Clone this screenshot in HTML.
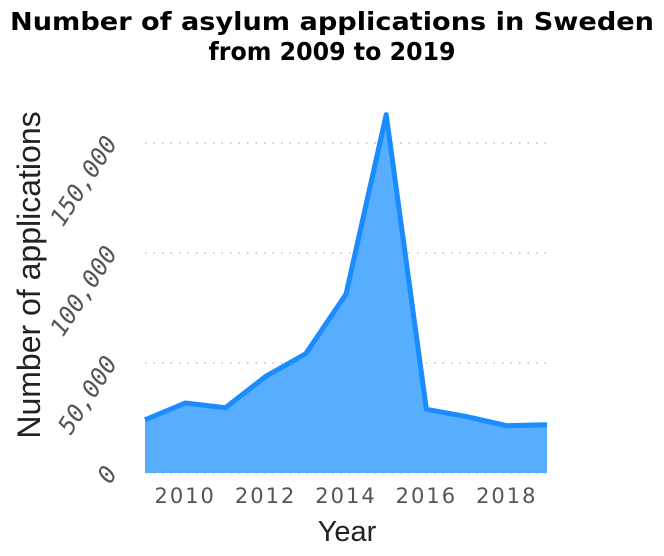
<!DOCTYPE html>
<html><head><meta charset="utf-8"><style>
body{margin:0;background:#fff;}
svg{display:block;font-family:"Liberation Sans",Arial,sans-serif;}
</style></head><body>
<svg id="chart" width="664" height="556">
<text x="332" y="30" text-anchor="middle" font-size="25" font-weight="bold" fill="#000" font-family="DejaVu Sans, sans-serif" textLength="644" lengthAdjust="spacingAndGlyphs">Number of asylum applications in Sweden</text>
<text x="332" y="60" text-anchor="middle" font-size="25" font-weight="bold" fill="#000" font-family="DejaVu Sans, sans-serif" textLength="247" lengthAdjust="spacingAndGlyphs">from 2009 to 2019</text>
<g id="grid"></g>
<g id="area"></g>
<g id="yticks"></g>
<g id="xticks"></g>
<text x="347" y="541" text-anchor="middle" font-size="29" fill="#222">Year</text>
<text transform="translate(40,275) rotate(-90)" text-anchor="middle" font-size="32" fill="#222">Number of applications</text>
</svg>
<script>
const years=[2009,2010,2011,2012,2013,2014,2015,2016,2017,2018,2019];
const applications=[24194,31819,29648,43887,54259,81301,162877,28939,25666,21502,21958];
const yTicks=[0,50000,100000,150000];
const yTickLabels=["0","50,000","100,000","150,000"];
const xTicks=[2010,2012,2014,2016,2018];
const NS="http://www.w3.org/2000/svg";
const x=v=>145+(v-2009)*(402/10);
const y=v=>473-v*(110/50000);
function mk(tag,attrs,parent){const e=document.createElementNS(NS,tag);for(const k in attrs)e.setAttribute(k,attrs[k]);parent.appendChild(e);return e;}
const grid=document.getElementById('grid');
yTicks.forEach((t,i)=>{
 const l=mk('line',{x1:145,x2:547,y1:y(t),y2:y(t),stroke:'#bbb','stroke-width':1.5,'stroke-dasharray':'1.5,7'},grid);
 
 });
const area=document.getElementById('area');
let pts=years.map((yr,i)=>x(yr)+','+y(applications[i]));
const poly=mk('polygon',{points:x(years[0])+','+y(0)+' '+pts.join(' ')+' '+x(years[years.length-1])+','+y(0),fill:'#57aeff'},area);


const line=mk('polyline',{points:pts.join(' '),fill:'none',stroke:'#1a8cff','stroke-width':5,'stroke-linejoin':'round'},area);


const yt=document.getElementById('yticks');
yTicks.forEach((t,i)=>{const tx=mk('text',{transform:'translate(118,'+y(t)+') rotate(-57)','text-anchor':'end','font-size':24,'font-style':'italic',fill:'#555','font-family':'DejaVu Sans Mono, Liberation Mono, monospace'},yt);
 tx.textContent=yTickLabels[i];
 
 });
const xt=document.getElementById('xticks');
xTicks.forEach(t=>{const tx=mk('text',{x:x(t),y:503,'text-anchor':'middle','font-size':21,'letter-spacing':2,fill:'#555','font-family':'DejaVu Sans, sans-serif'},xt);
 tx.textContent=t;
 
 });
</script>
</body></html>
